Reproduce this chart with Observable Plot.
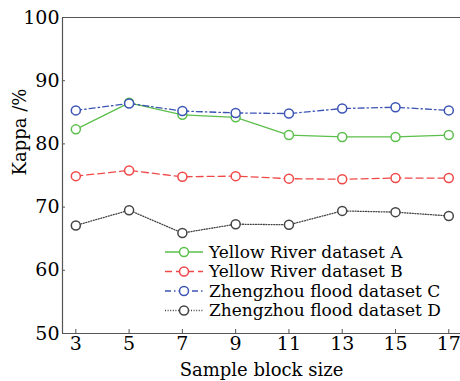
<!DOCTYPE html>
<html>
<head>
<meta charset="utf-8">
<script src="https://cdn.jsdelivr.net/npm/d3@7"></script>
<script src="https://cdn.jsdelivr.net/npm/@observablehq/plot@0.6"></script>
<style>
  html, body { margin: 0; padding: 0; background: #fff; }
  #chart { position: relative; width: 460px; height: 381px; }
  #chart svg, #chart svg text { font-family: "DejaVu Serif", "Liberation Serif", serif !important; }
  #chart svg g[aria-label$="tick label"] text { font-size: 19px !important; }
</style>
</head>
<body>
<div id="chart"></div>
<script>
const sizes = [3, 5, 7, 9, 11, 13, 15, 17];
const seriesA = [82.3, 86.5, 84.6, 84.2, 81.4, 81.1, 81.1, 81.4];
const seriesB = [74.9, 75.8, 74.8, 74.9, 74.5, 74.4, 74.6, 74.6];
const seriesC = [85.3, 86.4, 85.2, 84.9, 84.8, 85.6, 85.8, 85.3];
const seriesD = [67.1, 69.5, 65.9, 67.3, 67.2, 69.4, 69.2, 68.6];
const names = ["Yellow River dataset A", "Yellow River dataset B", "Zhengzhou flood dataset C", "Zhengzhou flood dataset D"];
const colors = ["#5cbf4c", "#f04848", "#3c54b4", "#444444"];
const dashes = [null, "7,4", "6,3,1.5,3", "1,1.6"];
const yTicks = [50, 60, 70, 80, 90, 100];

const allSeries = [seriesA, seriesB, seriesC, seriesD];
const data = allSeries.flatMap((vals, i) => vals.map((v, j) => ({x: sizes[j], y: v, s: i})));

const lineMarks = [];
allSeries.forEach((vals, i) => {
  const d = data.filter(p => p.s === i);
  lineMarks.push(Plot.line(d, {x: "x", y: "y", stroke: colors[i], strokeWidth: 1.3, strokeDasharray: dashes[i]}));
});
allSeries.forEach((vals, i) => {
  const d = data.filter(p => p.s === i);
  lineMarks.push(Plot.dot(d, {x: "x", y: "y", r: 4.5, stroke: colors[i], strokeWidth: 1.5, fill: "white"}));
});

const plot = Plot.plot({
  width: 460,
  height: 381,
  marginLeft: 62,
  marginRight: 0,
  marginTop: 17,
  marginBottom: 48,
  style: {fontSize: "17px", color: "#000"},
  x: {domain: [2.5, 17.5], range: [62, 461.6]},
  y: {domain: [50, 100]},
  marks: [
    Plot.axisX({ticks: sizes, tickFormat: d => String(d), tickSize: -4, tickPadding: 7, label: null, stroke: "#555", fill: "#000"}),
    Plot.axisY({ticks: yTicks, tickSize: -3, tickPadding: 6, label: null, stroke: "#555", fill: "#000"}),
    Plot.text(["Sample block size"], {frameAnchor: "bottom", dy: 42, fontSize: 18, fill: "#000"}),
    Plot.text(["Kappa /%"], {frameAnchor: "left", dx: -42, rotate: -90, fontSize: 18, fill: "#000"}),
    Plot.ruleY([50, 100], {stroke: "#555", strokeWidth: 1.2}),
    Plot.ruleX([2.5], {stroke: "#555", strokeWidth: 1.2}),
    ...lineMarks
  ]
});
document.getElementById("chart").appendChild(plot);

// Legend
const svg = d3.select(plot);
const lg = svg.append("g").attr("transform", "translate(165,252)");
names.forEach((n, i) => {
  const g = lg.append("g").attr("transform", `translate(0,${i * 19.5})`);
  g.append("line").attr("x1", 0).attr("x2", 38).attr("y1", 0).attr("y2", 0)
    .attr("stroke", colors[i]).attr("stroke-width", 1.3)
    .attr("stroke-dasharray", dashes[i]);
  g.append("circle").attr("cx", 19).attr("cy", 0).attr("r", 4.5)
    .attr("stroke", colors[i]).attr("stroke-width", 1.5).attr("fill", "white");
  g.append("text").attr("x", 44).attr("y", 0).attr("dy", "0.35em")
    .attr("text-anchor", "start")
    .attr("font-size", 17).attr("fill", "#000").text(n);
});
</script>
</body>
</html>
